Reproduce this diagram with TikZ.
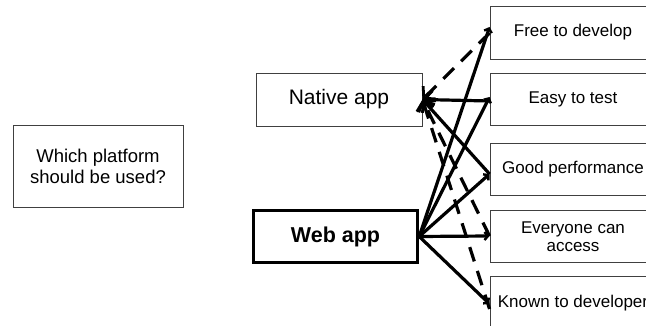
\documentclass[tikz,border=0pt]{standalone}
\usepackage{fontspec}
\setmainfont{Liberation Sans}
\usetikzlibrary{arrows.meta}
\begin{document}
\begin{tikzpicture}[x=1pt,y=-1pt,
  box/.style={draw=black!75,line width=0.9pt,minimum width=166pt,minimum height=53pt,inner sep=0pt,align=center,anchor=center},
  featbox/.style={box,font=\fontsize{17}{18}\selectfont},
  wire/.style={line width=3.2pt},
  tolink/.style={wire,-{Straight Barb[length=3.5pt,width=8pt,line width=2.4pt]}},
  fromlink/.style={wire,-{Straight Barb[length=8pt,width=18pt,line width=2.8pt]}},
  dlink/.style={fromlink,dash pattern=on 15pt off 10pt}]
\clip (0,0) rectangle (646,326);
\fill[white] (0,0) rectangle (646,326);

% question and the two platform choices
\node[box,minimum width=170pt,minimum height=82pt,font=\fontsize{18.5}{21}\selectfont] (q) at (98,166) {Which platform\\should be used?};
\node[box,font=\fontsize{21}{22}\selectfont] (native) at (339,99.5) {Native app};
\node[box,line width=3.4pt,draw=black,minimum width=164pt,minimum height=52pt,font=\bfseries\fontsize{21.5}{22}\selectfont] (web) at (335.5,236.5) {Web app};

% criteria column, cut off at the right edge
\node[featbox] (free) at (573,32.5) {Free to develop};
\node[featbox,minimum height=52pt] (easy) at (573,99.5) {Easy to test};
\node[featbox,minimum height=52pt] (good) at (573,169.5) {Good performance};
\node[featbox,minimum height=52pt] (all) at (573,236.5) {Everyone can\\access};
\node[featbox,minimum height=54pt] (known) at (573,303) {Known to developer};

% web app towards each criterion
\draw[tolink] (web.east) -- ([yshift=5.5pt]free.west);
\draw[tolink] (web.east) -- ([yshift=2.5pt]easy.west);
\draw[tolink] (web.east) -- ([yshift=-4.5pt]good.west);
\draw[tolink] (web.east) -- ([yshift=0.5pt]all.west);
\draw[tolink] (web.east) -- ([yshift=-1pt]known.west);

% criteria pointing back at the native app
\draw[fromlink] ([yshift=-1.5pt]easy.west) -- (native.east);
\draw[fromlink] ([yshift=-4.5pt]good.west) -- (native.east);
\draw[dlink] ([yshift=-0.5pt]free.west) -- (native.east);
\draw[dlink] ([yshift=0.5pt]all.west) -- (native.east);
\draw[dlink] ([yshift=-6pt]known.west) -- (native.east);
\end{tikzpicture}
\end{document}
